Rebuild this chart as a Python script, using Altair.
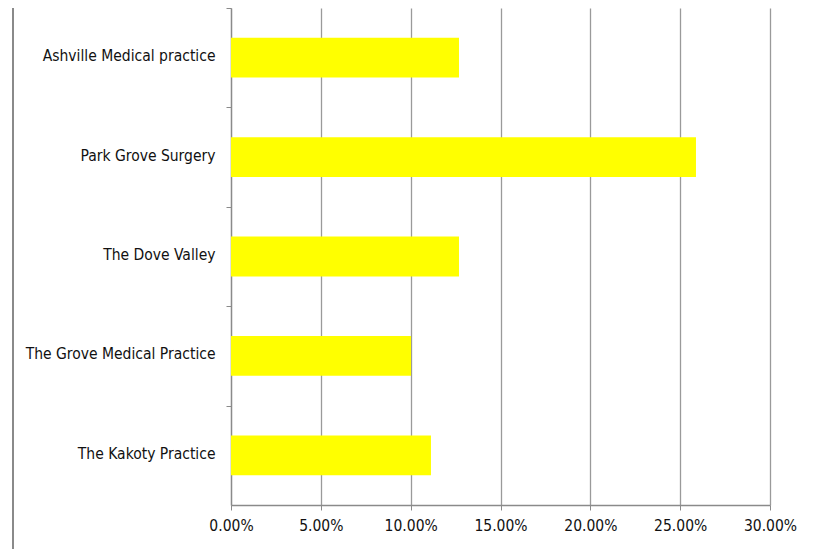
import altair as alt
import pandas as pd

practices = [
    "Ashville Medical practice",
    "Park Grove Surgery",
    "The Dove Valley",
    "The Grove Medical Practice",
    "The Kakoty Practice",
]
shares = [0.1269, 0.2588, 0.1269, 0.1002, 0.1113]

df = pd.DataFrame({"practice": practices, "share": shares})

FONT = "DejaVu Sans Condensed"
HALF_STEP = 497 / 5 / 2

bars = alt.Chart(df).mark_bar(color="#FFFF00").encode(
    x=alt.X(
        "share:Q",
        scale=alt.Scale(domain=[0, 0.30], nice=False),
        axis=alt.Axis(
            format=".2%",
            values=[0, 0.05, 0.10, 0.15, 0.20, 0.25, 0.30],
            title=None,
            grid=True,
            gridColor="#9a9a9a",
            gridWidth=1.3,
            domainColor="#8a8a8a",
            domainWidth=1.3,
            tickColor="#8a8a8a",
            tickSize=5,
            labelPadding=8,
            labelFlush=False,
            labelFontSize=15.5,
            labelColor="#111",
            labelFont=FONT,
        ),
    ),
    y=alt.Y(
        "practice:N",
        sort=practices,
        scale=alt.Scale(paddingInner=0.6, paddingOuter=0.3),
        axis=alt.Axis(
            title=None,
            tickOffset=-HALF_STEP,
            labelOffset=HALF_STEP - 2,
            domainColor="#8a8a8a",
            domainWidth=1.3,
            tickColor="#8a8a8a",
            tickSize=5,
            labelPadding=11,
            labelLimit=0,
            labelFontSize=15.5,
            labelColor="#111",
            labelFont=FONT,
        ),
    ),
)

border = alt.Chart(pd.DataFrame({"side": ["left", "right"], "pos": [-218, 583]})).mark_rule(
    color="#8a8a8a", strokeWidth=2, clip=False
).encode(
    x=alt.X("pos:Q", scale=None),
    y=alt.value(-20),
    y2=alt.value(560),
)

chart = alt.layer(bars, border).properties(
    width=539,
    height=497,
    autosize=alt.AutoSizeParams(type="none"),
    padding={"left": 223, "top": 0, "right": 43, "bottom": 44},
).configure_view(stroke=None)

chart.save("out.html", embed_options={"renderer": "svg", "actions": False})
